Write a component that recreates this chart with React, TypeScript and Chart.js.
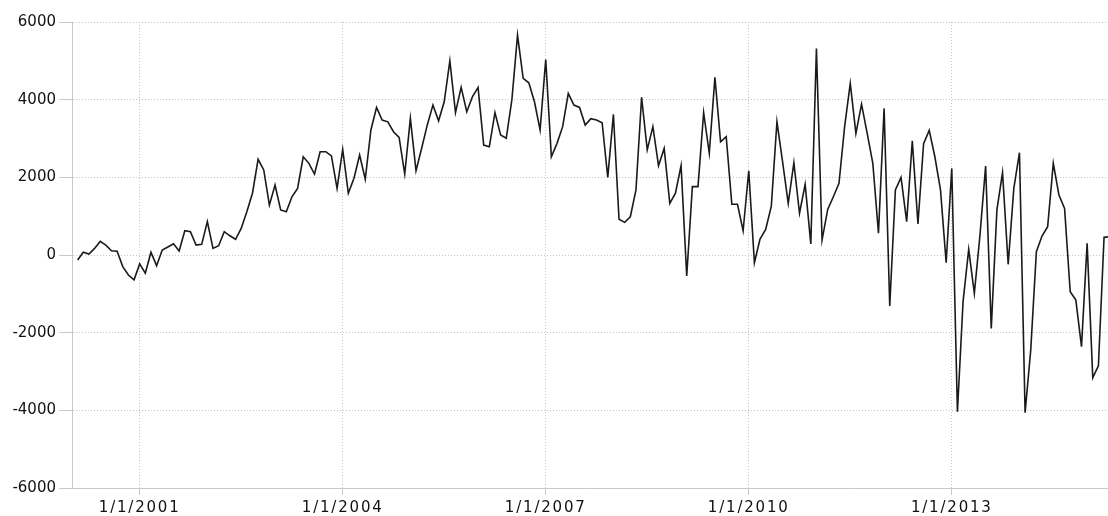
import React, { useEffect, useRef } from 'react';
import { Chart, registerables } from 'chart.js';

Chart.register(...registerables);

// Months are counted from January 2000 (0 = Jan 2000). First value is Feb 2000.
const firstMonth = 1;
const values: number[] = [
  -130, 70, 25, 170, 350, 255, 110, 95, -300, -515, -640,
  -230, -470, 70, -275, 130, 205, 290, 105, 625, 600, 255, 275,
  860, 170, 240, 600, 495, 405, 685, 1115, 1590, 2465, 2190, 1285,
  1800, 1160, 1115, 1500, 1715, 2530, 2360, 2085, 2660, 2660, 2550, 1715,
  2720, 1590, 1975, 2575, 1950, 3220, 3800, 3475, 3430, 3175, 3030, 2085,
  3520, 2170, 2750, 3350, 3860, 3455, 3945, 5000, 3665, 4315, 3690, 4075,
  4315, 2830, 2790, 3665, 3090, 3005, 4000, 5660, 4550, 4435, 3945, 3220,
  5035, 2530, 2875, 3305, 4160, 3860, 3800, 3345, 3510, 3475, 3405, 2000,
  3620, 920, 840, 985, 1675, 4060, 2705, 3305, 2300, 2745, 1330, 1590,
  2300, -540, 1760, 1760, 3665, 2620, 4575, 2915, 3045, 1305, 1305, 625,
  2170, -200, 410, 660, 1260, 3430, 2400, 1330, 2375, 1075, 1820, 285,
  5320, 385, 1175, 1500, 1845, 3305, 4420, 3130, 3885, 3130, 2360, 560,
  3775, -1315, 1675, 2000, 860, 2940, 800, 2865, 3210, 2530, 1675, -200,
  2230, -4035, -1200, 145, -985, 515, 2290, -1890, 1160, 2120, -240, 1715,
  2635, -4060, -2445, 85, 490, 730, 2360, 1545, 1200, -945, -1160, -2360,
  300, -3160, -2855, 455, 470,
];

const xTickMonths: number[] = [12, 48, 84, 120, 156];
const xTickLabels: string[] = ['1/1/2001', '1/1/2004', '1/1/2007', '1/1/2010', '1/1/2013'];
const yTickValues: number[] = [-6000, -4000, -2000, 0, 2000, 4000, 6000];

const X_MIN = 0;
const X_MAX = 183.7;

export default function App() {
  const canvasRef = useRef<HTMLCanvasElement | null>(null);

  useEffect(() => {
    document.body.style.margin = '0';
    const canvas = canvasRef.current;
    if (!canvas) return;

    const points = values.map((v, i) => ({ x: firstMonth + i, y: v }));

    const letterSpacingPlugin = {
      id: 'xLetterSpacing',
      beforeDraw(chart: any) {
        const xs: any = chart.scales.x;
        if (xs && !xs.__patched) {
          const orig = xs.drawLabels.bind(xs);
          xs.drawLabels = (area: any) => {
            const ctx: any = chart.ctx;
            ctx.save();
            ctx.letterSpacing = '1.8px';
            orig(area);
            ctx.restore();
          };
          xs.__patched = true;
        }
      },
    };

    const gridColor = '#c4c4c4';
    const axisColor = '#c8c8c8';
    const font = { family: '"DejaVu Sans", sans-serif', size: 15 };

    const chart = new Chart(canvas, {
      type: 'line',
      data: {
        datasets: [
          {
            data: points,
            borderColor: '#1a1a1a',
            borderWidth: 1.6,
            pointRadius: 0,
            tension: 0,
            fill: false,
          },
        ],
      },
      options: {
        animation: false,
        responsive: false,
        events: [],
        layout: { padding: { top: 22, right: 0, bottom: 0, left: 0 } },
        plugins: {
          legend: { display: false },
          tooltip: { enabled: false },
          title: { display: false },
        },
        scales: {
          x: {
            type: 'linear',
            min: X_MIN,
            max: X_MAX,
            afterBuildTicks: (scale: any) => {
              scale.ticks = xTickMonths.map((v) => ({ value: v }));
            },
            afterFit: (scale: any) => {
              scale.height = 28;
            },
            ticks: {
              autoSkip: false,
              maxRotation: 0,
              padding: 4,
              color: '#111111',
              font,
              callback: (_v: any, index: number) => xTickLabels[index],
            },
            grid: {
              color: gridColor,
              lineWidth: 1,
              tickLength: 7,
              tickColor: axisColor,
            },
            border: { display: true, color: axisColor, width: 1, dash: [1, 2] },
          },
          y: {
            type: 'linear',
            min: -6000,
            max: 6000,
            afterBuildTicks: (scale: any) => {
              scale.ticks = yTickValues.map((v) => ({ value: v }));
            },
            afterFit: (scale: any) => {
              scale.width = 72;
            },
            ticks: {
              padding: 3,
              color: '#111111',
              font,
              callback: (v: any) => String(v),
            },
            grid: {
              color: gridColor,
              lineWidth: 1,
              tickLength: 13,
              tickColor: axisColor,
            },
            border: { display: true, color: axisColor, width: 1, dash: [1, 2] },
          },
        },
      },
      plugins: [letterSpacingPlugin],
    });

    return () => {
      chart.destroy();
    };
  }, []);

  return (
    <div style={{ position: 'relative', width: 1108, height: 516 }}>
      <canvas ref={canvasRef} width={1108} height={516} style={{ display: 'block' }} />
    </div>
  );
}
